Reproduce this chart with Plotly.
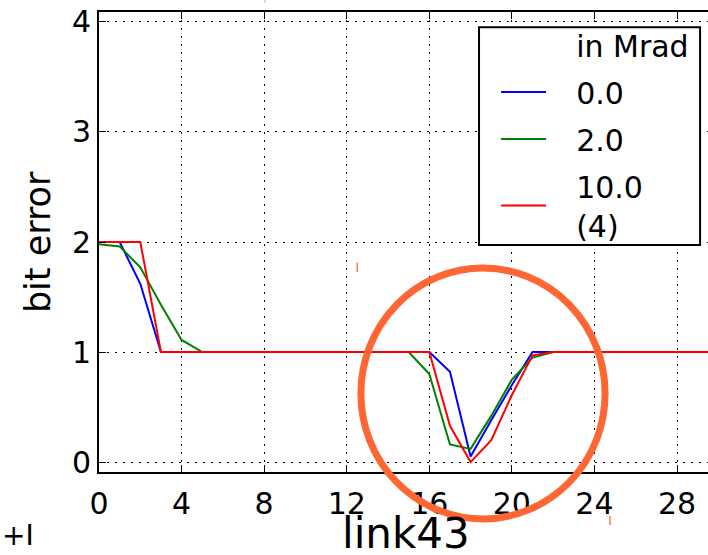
import plotly.graph_objects as go

x_vals = list(range(0, 31))

blue_0 = [2.0, 2.0, 1.62, 1.0] + [1.0] * 13 + [0.82, 0.05, 0.38, 0.70, 1.0] + [1.0] * 9
green_2 = [1.98, 1.96, 1.77, 1.43, 1.11, 1.0] + [1.0] * 10 + [0.80, 0.16, 0.12, 0.42, 0.75, 0.95] + [1.0] * 9
red_10 = [2.0, 2.0, 2.0, 1.0] + [1.0] * 13 + [0.33, 0.0, 0.20, 0.61, 0.97] + [1.0] * 9

legend_title = "in Mrad"
series_names = ["0.0", "2.0", "10.0<br>(4)"]
series_colors = ["#0000FF", "#008000", "#FF0000"]
series_values = [blue_0, green_2, red_10]

x_ticks = [0, 4, 8, 12, 16, 20, 24, 28]
y_ticks = [0, 1, 2, 3, 4]

FONT = "DejaVu Sans"
PAD = "&nbsp;" * 2 + "&#8201;"


def pad_label(s):
    return "<br>".join(PAD + part for part in s.split("<br>"))


fig = go.Figure()
# legend header as an invisible entry so it aligns with the entry text
fig.add_trace(go.Scatter(x=[None], y=[None], mode="lines", name=pad_label(legend_title),
                         line=dict(color="rgba(0,0,0,0)", width=2), showlegend=True,
                         legendgroup="g0", hoverinfo="skip"))
for i, (name, color, vals) in enumerate(zip(series_names, series_colors, series_values)):
    fig.add_trace(go.Scatter(x=x_vals, y=vals, mode="lines", name=pad_label(name),
                             legendgroup=f"g{i + 1}",
                             line=dict(color=color, width=2)))

grid_common = dict(showgrid=True, gridcolor="black", gridwidth=1, griddash="2px,6px",
                   zeroline=False, showline=True, linecolor="black", linewidth=2,
                   ticks="inside", ticklen=7, tickcolor="black", tickwidth=1,
                   automargin=False,
                   tickfont=dict(family=FONT, size=30, color="black"))

fig.update_xaxes(range=[0, 29.5], tickvals=x_ticks, mirror="ticks",
                 ticklabelstandoff=4, **grid_common)
fig.update_yaxes(range=[-0.09, 4.09], tickvals=y_ticks, mirror=False,
                 ticklabelstandoff=0, **grid_common)

fig.update_layout(
    width=708, height=555,
    margin=dict(l=99, r=0, t=12, b=83),
    plot_bgcolor="white", paper_bgcolor="white",
    font=dict(family=FONT, color="black"),
    legend=dict(x=0.652, y=0.985, xanchor="left", yanchor="top",
                bgcolor="rgba(0,0,0,0)", borderwidth=0,
                font=dict(family=FONT, size=30, color="black"),
                itemwidth=45, tracegroupgap=5),
    showlegend=True,
)

# axis titles
fig.add_annotation(text="link43", xref="paper", yref="paper", x=0.504, y=-0.076,
                   xanchor="center", yanchor="top", showarrow=False,
                   font=dict(family=FONT, size=42, color="black"))
fig.add_annotation(text="bit error", xref="paper", yref="paper", x=-0.100, y=0.5,
                   xanchor="center", yanchor="middle", textangle=-90, showarrow=False,
                   font=dict(family=FONT, size=35, color="black"))

# legend frame
fig.add_shape(type="rect", xref="paper", yref="paper", x0=0.624, x1=0.987, y0=0.4935, y1=0.967,
              fillcolor="white", line=dict(color="black", width=2), layer="above")

# orange highlight circle
fig.add_shape(type="circle", xref="paper", yref="paper",
              x0=0.430, x1=0.831, y0=-0.102, y1=0.4435,
              line=dict(color="#FF6633", width=7))
# small stray marks
fig.add_shape(type="line", xref="paper", yref="paper", x0=0.424, x1=0.424, y0=0.435, y1=0.455,
              line=dict(color="#FF7744", width=1.5))
fig.add_shape(type="line", xref="paper", yref="paper", x0=0.839, x1=0.839, y0=-0.115, y1=-0.095,
              line=dict(color="#FF7744", width=1.5))
fig.add_shape(type="line", xref="paper", yref="paper", x0=0.2726, x1=0.2726, y0=1.0196, y1=1.026,
              line=dict(color="#FF9977", width=1))
fig.add_annotation(text="+I", xref="paper", yref="paper", x=-0.163, y=-0.098,
                   xanchor="left", yanchor="top", showarrow=False,
                   font=dict(family=FONT, size=28, color="black"))

fig.write_html("out.html")
